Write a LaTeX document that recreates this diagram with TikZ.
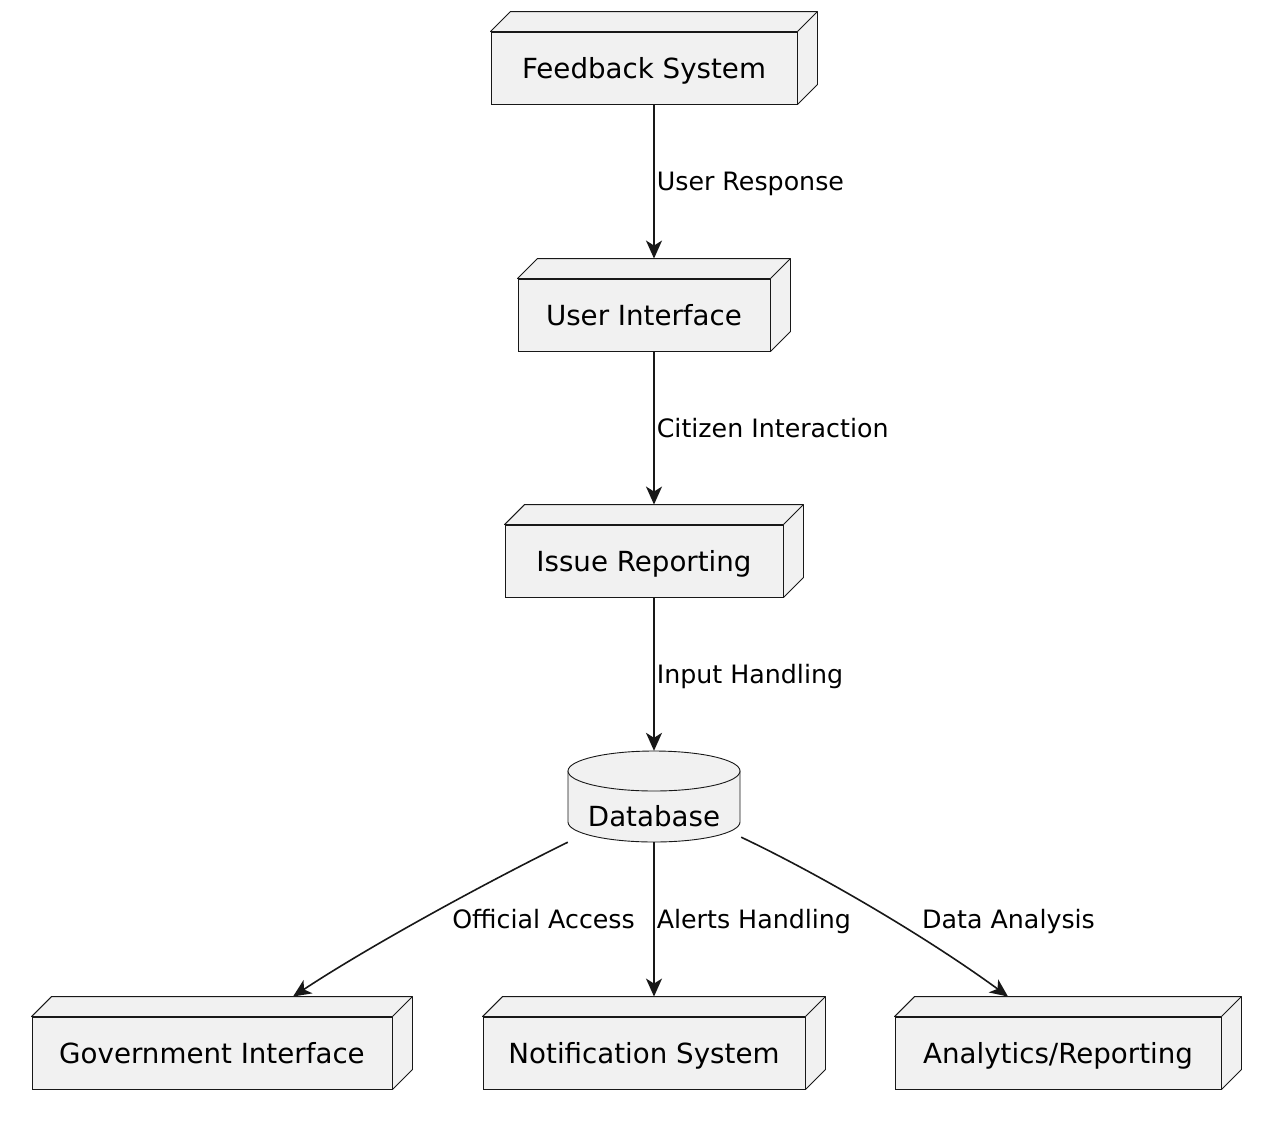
\documentclass[tikz,border=0pt]{standalone}
\usepackage{fontspec}
\setmainfont{DejaVu Sans}
\usetikzlibrary{arrows.meta,calc}
\definecolor{boxfill}{HTML}{F1F1F1}
\definecolor{ln}{HTML}{181818}
\begin{document}
\begin{tikzpicture}[x=1pt,y=-1pt,
  nodebox/.style={draw=ln, fill=boxfill, line width=0.9pt, font=\fontsize{27.7}{33}\selectfont,
    inner sep=0pt, minimum height=72pt, text height=20.2pt, text depth=0pt},
  face/.style={draw=ln, fill=boxfill, line width=0.9pt, line join=round},
  arr/.style={draw=ln, line width=1.6pt, -{Stealth[length=18pt,width=16pt,inset=5pt]}},
  lbl/.style={font=\fontsize{25.3}{30}\selectfont, inner sep=0pt, text height=18.4pt, text depth=0pt}]
\useasboundingbox (0,0) rectangle (1274,1122);

% boxes
\node[nodebox, minimum width=306pt] (fb) at (644,68)   {Feedback System};
\node[nodebox, minimum width=252pt] (ui) at (644,315)  {User Interface};
\node[nodebox, minimum width=278pt] (ir) at (644,561)  {Issue Reporting};
\node[nodebox, minimum width=360pt] (gi) at (212,1053) {Government Interface};
\node[nodebox, minimum width=322pt] (ns) at (644,1053) {Notification System};
\node[nodebox, minimum width=326pt] (ar) at (1058,1053){Analytics/Reporting};

\foreach \n in {fb,ui,ir,gi,ns,ar}{
  \draw[face] (\n.north west) -- ($(\n.north west)+(20pt,20pt)$) -- ($(\n.north east)+(20pt,20pt)$)
     -- ($(\n.south east)+(20pt,20pt)$) -- (\n.south east) -- (\n.north east) -- cycle;
  \draw[face] (\n.north east) -- ($(\n.north east)+(20pt,20pt)$);
}

% database
\draw[face] (568,771) -- (568,822) arc[start angle=180, end angle=0, x radius=86, y radius=20]
   -- (740,771) -- cycle;
\draw[face] (654,771) ellipse [x radius=86, y radius=20];
\node[inner sep=0pt, minimum width=172pt, minimum height=91pt] (db) at (654,796.5) {};
\node[font=\fontsize{27.7}{33}\selectfont, inner sep=0pt, text height=20.2pt, text depth=0pt] (dbt) at (654,816) {Database};

% connectors
\draw[arr] ($(fb.south)+(10pt,0pt)$) -- ($(ui.north)+(10pt,20pt)$)
   node[lbl, midway, anchor=west, xshift=2pt] (l1) {User Response};
\draw[arr] ($(ui.south)+(10pt,0pt)$) -- ($(ir.north)+(10pt,20pt)$)
   node[lbl, midway, anchor=west, xshift=2pt] (l2) {Citizen Interaction};
\draw[arr] ($(ir.south)+(10pt,0pt)$) -- (db.north)
   node[lbl, midway, anchor=west, xshift=2pt] (l3) {Input Handling};
\draw[arr] (db.south) -- ($(ns.north)+(10pt,20pt)$)
   node[lbl, midway, anchor=west, xshift=2pt] (l5) {Alerts Handling};
\draw[arr] (db.south west) .. controls (483,884) and (368,947) .. ($(gi.north)+(81pt,20pt)$);
\draw[arr] ($(db.south east)+(1pt,5pt)$) .. controls (821,875) and (928,938) .. ($(ar.north)+(-50pt,20pt)$);
\node[lbl, anchor=east] (l4) at (635,919) {Official Access};
\node[lbl, anchor=west] (l6) at (922,919) {Data Analysis};
\end{tikzpicture}
\end{document}
